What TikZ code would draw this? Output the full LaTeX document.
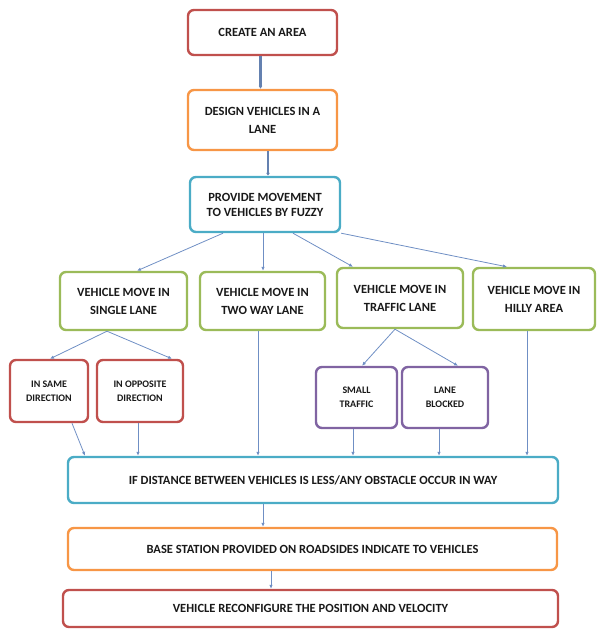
\documentclass[tikz,border=0pt]{standalone}
\usepackage{fontspec}
\setmainfont{Carlito}
\usepackage{tikz}
\usetikzlibrary{arrows.meta,calc,positioning}
\definecolor{boxred}{HTML}{C0504D}
\definecolor{boxorange}{HTML}{F79646}
\definecolor{boxblue}{HTML}{4BACC6}
\definecolor{boxgreen}{HTML}{9BBB59}
\definecolor{boxpurple}{HTML}{8064A2}
\definecolor{linkblue}{HTML}{6F8FC4}
\tikzset{
    x=1pt,y=-1pt,
    box/.style ={draw, rounded corners=6pt, line width=2.4pt, fill=white, align=center,
                 text=black!90, inner sep=2pt, font=\bfseries\fontsize{12.5}{18}\selectfont},
    redbox/.style ={box, draw=boxred},
    orangebox/.style ={box, draw=boxorange},
    bluebox/.style ={box, draw=boxblue},
    greenbox/.style ={box, draw=boxgreen},
    purplebox/.style ={box, draw=boxpurple},
    small/.style ={font=\bfseries\fontsize{10}{14}\selectfont},
    link/.style ={draw=linkblue, line width=0.8pt, -{Latex[length=4pt,width=3.5pt]}},
    thicklink/.style ={draw=linkblue!90!black, line width=2.6pt, -{Latex[length=3pt,width=4pt]}}
}
\begin{document}
\begin{tikzpicture}
    \useasboundingbox (0,0) rectangle (597,630);
    \node[redbox, minimum width=149, minimum height=45] (1) at (262.5,32.5) {CREATE AN AREA};
    \node[orangebox, minimum width=149, minimum height=60] (2) at (262.5,120) {DESIGN VEHICLES IN A\\LANE};
    \node[bluebox, minimum width=150, minimum height=55, font=\bfseries\fontsize{12.5}{15}\selectfont] (3) at (265,204.5) {PROVIDE MOVEMENT\\TO VEHICLES BY FUZZY};
    \node[greenbox, minimum width=127, minimum height=58] (4) at (123.5,301) {VEHICLE MOVE IN\\SINGLE LANE};
    \node[greenbox, minimum width=125, minimum height=58] (5) at (262.5,301) {VEHICLE MOVE IN\\TWO WAY LANE};
    \node[greenbox, minimum width=126, minimum height=60] (6) at (400,298) {VEHICLE MOVE IN\\TRAFFIC LANE};
    \node[greenbox, minimum width=122, minimum height=62] (7) at (534,299) {VEHICLE MOVE IN\\HILLY AREA};
    \node[redbox, small, minimum width=78, minimum height=62] (8) at (49,391) {IN SAME\\DIRECTION};
    \node[redbox, small, minimum width=86, minimum height=62] (9) at (140,391) {IN OPPOSITE\\DIRECTION};
    \node[purplebox, small, minimum width=81, minimum height=61] (10) at (356.5,397.5) {SMALL\\TRAFFIC};
    \node[purplebox, small, minimum width=86, minimum height=61] (11) at (445,397.5) {LANE\\BLOCKED};
    \node[bluebox, minimum width=490, minimum height=46] (12) at (313,480) {IF DISTANCE BETWEEN VEHICLES IS LESS/ANY OBSTACLE OCCUR IN WAY};
    \node[orangebox, minimum width=489, minimum height=42] (13) at (312.5,549) {BASE STATION PROVIDED ON ROADSIDES INDICATE TO VEHICLES};
    \node[redbox, minimum width=495, minimum height=37] (14) at (310.5,608.5) {VEHICLE RECONFIGURE THE POSITION AND VELOCITY};

    \draw[thicklink] ([xshift=-2]1.south) -- ([xshift=-2]2.north);
    \draw[thicklink] ([xshift=5.5]2.south) -- ([xshift=3]3.north);
    \draw[link] ([xshift=-42]3.south) -- ([xshift=13.5]4.north);
    \draw[link] ([xshift=-2]3.south) -- ([xshift=0.5]5.north);
    \draw[link] ([xshift=28]3.south) -- ([xshift=-47]6.north);
    \draw[link] (3.south east) -- ([xshift=-27]7.north);
    \draw[link] ([xshift=-16.5]4.south) -- ([xshift=1]8.north);
    \draw[link] ([xshift=-16.5]4.south) -- ([xshift=32]9.north);
    \draw[link] ([xshift=-5]6.south) -- ([xshift=5.5]10.north);
    \draw[link] ([xshift=-5]6.south) -- ([xshift=13]11.north);
    \draw[link] ([xshift=23]8.south) -- ([xshift=-228]12.north);
    \draw[link] ([xshift=-2]9.south) -- ([xshift=-175]12.north);
    \draw[link] ([xshift=-4.5]5.south) -- ([xshift=-55]12.north);
    \draw[link] ([xshift=-3.5]10.south) -- ([xshift=40]12.north);
    \draw[link] ([xshift=-6]11.south) -- ([xshift=126]12.north);
    \draw[link] ([xshift=-7]7.south) -- ([xshift=214]12.north);
    \draw[link] ([xshift=-50]12.south) -- ([xshift=-49.5]13.north);
    \draw[link] ([xshift=-41.5]13.south) -- ([xshift=-39.5]14.north);
\end{tikzpicture}
\end{document}
